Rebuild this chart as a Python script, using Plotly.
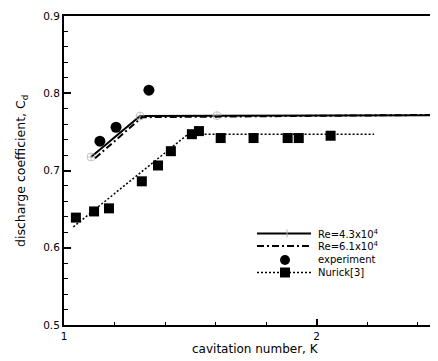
import plotly.graph_objects as go

# ---- data ----
K_re43 = [1.107, 1.301, 1.605, 2.48]
Cd_re43 = [0.7175, 0.7705, 0.7710, 0.7715]

K_re61 = [1.123, 1.309, 2.48]
Cd_re61 = [0.716, 0.769, 0.772]

K_exp = [1.142, 1.206, 1.336]
Cd_exp = [0.738, 0.756, 0.804]

K_nurick = [1.047, 1.119, 1.178, 1.308, 1.372, 1.423, 1.506, 1.534,
            1.620, 1.750, 1.885, 1.929, 2.055]
Cd_nurick = [0.639, 0.647, 0.651, 0.686, 0.7065, 0.725, 0.747, 0.751,
             0.742, 0.742, 0.742, 0.742, 0.745]

K_nurick_line = [1.037, 1.491, 2.227]
Cd_nurick_line = [0.627, 0.747, 0.747]

legend_labels = ["Re=4.3x10<sup>4</sup>", "Re=6.1x10<sup>4</sup>", "experiment", "Nurick[3]"]

x_ticks = [1, 2]
y_ticks = [0.5, 0.6, 0.7, 0.8, 0.9]

# ---- layout constants (page has an 8px body margin) ----
OFF = 8
W, H = 438 - OFF, 361 - OFF
PL, PR, PT, PB = 64, 438, 16, 325          # plot box in page pixels
ML, MR, MT, MB = PL - OFF, 0, PT - OFF, H + OFF - PB
PW, PH = PR - PL, PB - PT
FONT = "DejaVu Sans"


def px_x(p):
    return (p - PL) / PW


def px_y(p):
    return (PB - p) / PH


fig = go.Figure()

fig.add_trace(go.Scatter(
    x=K_re43, y=Cd_re43, mode="lines+markers",
    line=dict(color="black", width=2),
    marker=dict(symbol="circle-cross-open", size=[8, 8, 8, 0], color="#b0b0b0",
                line=dict(width=1, color="#b0b0b0")),
    showlegend=False))
fig.add_trace(go.Scatter(
    x=K_re61, y=Cd_re61, mode="lines",
    line=dict(color="black", width=2, dash="7px,3px,2px,3px"),
    showlegend=False))
fig.add_trace(go.Scatter(
    x=K_nurick_line, y=Cd_nurick_line, mode="lines",
    line=dict(color="black", width=1.5, dash="2px,2px"),
    showlegend=False))
fig.add_trace(go.Scatter(
    x=K_nurick, y=Cd_nurick, mode="markers",
    marker=dict(symbol="square", size=10, color="black"),
    showlegend=False))
fig.add_trace(go.Scatter(
    x=K_exp, y=Cd_exp, mode="markers",
    marker=dict(symbol="circle", size=11, color="black"),
    showlegend=False))

# ---- hand-made compact legend ----
rows = [233.5, 246, 260, 272.5]
lx0, lx1, ltext = 257, 311, 316
styles = [dict(width=2, dash="solid"), dict(width=2, dash="7px,3px,2px,3px"),
          None, dict(width=1.5, dash="2px,2px")]
for r, st in zip(rows, styles):
    if st is not None:
        fig.add_shape(type="line", xref="paper", yref="paper",
                      x0=px_x(lx0), x1=px_x(lx1), y0=px_y(r), y1=px_y(r),
                      line=dict(color="black", **st))
mx = 285
fig.add_shape(type="circle", xref="paper", yref="paper",
              x0=px_x(mx - 5), x1=px_x(mx + 5), y0=px_y(rows[2] - 5), y1=px_y(rows[2] + 5),
              fillcolor="black", line=dict(color="black", width=0))
fig.add_shape(type="rect", xref="paper", yref="paper",
              x0=px_x(mx - 5), x1=px_x(mx + 5), y0=px_y(rows[3] - 5), y1=px_y(rows[3] + 5),
              fillcolor="black", line=dict(color="black", width=0))
fig.add_shape(type="line", xref="paper", yref="paper",
              x0=px_x(mx + 2), x1=px_x(mx + 2), y0=px_y(rows[0] - 4), y1=px_y(rows[0] + 4),
              line=dict(color="#b0b0b0", width=1))

for r, lab in zip(rows, legend_labels):
    fig.add_annotation(x=px_x(ltext), y=px_y(r), xref="paper", yref="paper",
                       text=lab, showarrow=False, xanchor="left", yanchor="middle",
                       font=dict(family=FONT, size=10, color="black"))

# axis titles
fig.add_annotation(x=px_x(255), y=px_y(349.5), xref="paper", yref="paper",
                   text="cavitation number, K", showarrow=False,
                   xanchor="center", yanchor="middle",
                   font=dict(family=FONT, size=12, color="black"))
fig.add_annotation(x=px_x(22), y=px_y(171), xref="paper", yref="paper",
                   text="discharge coefficient, C<sub>d</sub>", showarrow=False,
                   textangle=-90, xanchor="center", yanchor="middle",
                   font=dict(family=FONT, size=12.5, color="black"))

fig.update_layout(
    width=W, height=H,
    margin=dict(l=ML, r=MR, t=MT, b=MB, pad=0),
    paper_bgcolor="white", plot_bgcolor="white",
    font=dict(family=FONT, size=10.5, color="black"),
    showlegend=False,
    xaxis=dict(range=[1, 2.48], tickvals=x_ticks, ticktext=["1", "2"],
               ticks="inside", ticklen=6, tickwidth=1.5, tickcolor="black",
               minor=dict(dtick=0.2, ticks="inside", ticklen=3, tickwidth=1, tickcolor="black"),
               showline=True, linecolor="black", linewidth=2, mirror=True,
               showgrid=False, zeroline=False, tickfont=dict(size=10.5)),
    yaxis=dict(range=[0.5, 0.9], tickvals=y_ticks, ticktext=["0.5", "0.6", "0.7", "0.8", "0.9"],
               ticks="inside", ticklen=7, tickwidth=1.5, tickcolor="black",
               minor=dict(dtick=0.02, ticks="inside", ticklen=4, tickwidth=1, tickcolor="black"),
               showline=True, linecolor="black", linewidth=2, mirror=False,
               showgrid=False, zeroline=False, tickfont=dict(size=10.5)),
)

fig.write_html("out.html")
